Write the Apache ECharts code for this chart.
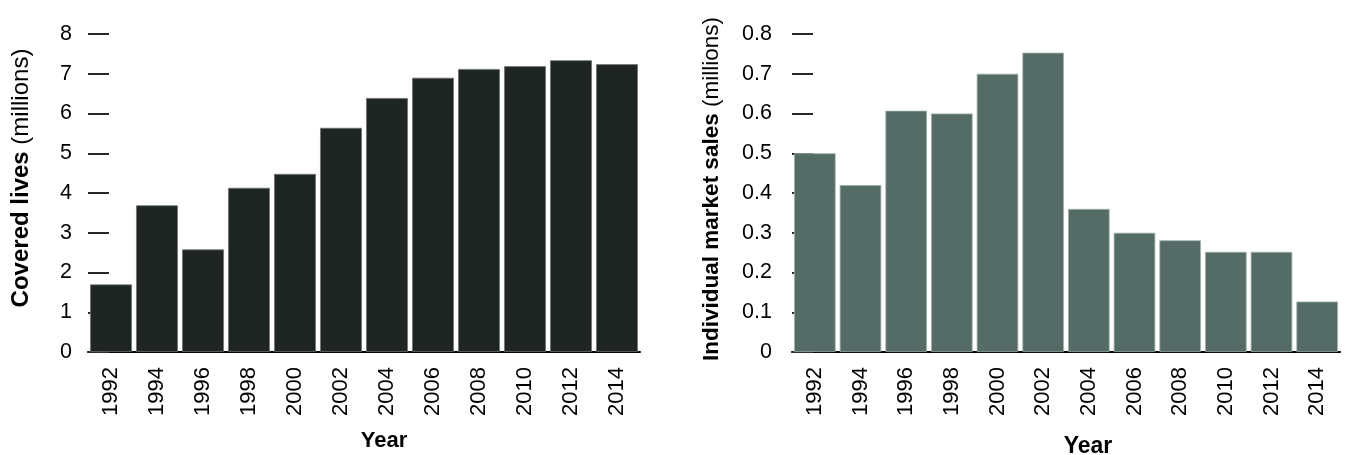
<!DOCTYPE html>
<html>
<head>
<meta charset="utf-8">
<script src="https://cdn.jsdelivr.net/npm/echarts@6/dist/echarts.min.js"></script>
<style>
  html, body { margin: 0; padding: 0; background: #fff; }
  #chart { width: 1356px; height: 455px; }
</style>
</head>
<body>
<div id="chart"></div>
<script>
// Years shared by both panels
const years = ['1992', '1994', '1996', '1998', '2000', '2002', '2004', '2006', '2008', '2010', '2012', '2014'];
// Covered lives, millions
const coveredLives = [1.70, 3.69, 2.58, 4.13, 4.48, 5.64, 6.39, 6.90, 7.12, 7.19, 7.34, 7.24];
// Individual market sales, millions
const marketSales = [0.50, 0.42, 0.607, 0.60, 0.70, 0.753, 0.36, 0.30, 0.281, 0.252, 0.252, 0.127];
// Value-axis tick labels
const leftTicks = ['0', '1', '2', '3', '4', '5', '6', '7', '8'];
const rightTicks = ['0', '0.1', '0.2', '0.3', '0.4', '0.5', '0.6', '0.7', '0.8'];

const FONT = '"Liberation Sans", Arial, Helvetica, sans-serif';

function catAxis(gridIndex, padLeft, gap, size) {
  return {
    type: 'category',
    gridIndex: gridIndex,
    data: years,
    axisLine: { show: true, lineStyle: { color: '#000', width: 2 } },
    axisTick: { show: false },
    axisLabel: { rotate: 90, margin: 15, fontSize: 22, color: '#000', fontFamily: FONT },
    name: 'Year',
    nameLocation: 'middle',
    nameGap: gap,
    nameTextStyle: { fontSize: size, fontWeight: 'bold', color: '#000', fontFamily: FONT, padding: [0, 0, 0, padLeft] }
  };
}

function valAxis(gridIndex, max, interval, ticks, nameText, gap, padLeft, size, margin) {
  return {
    type: 'value',
    gridIndex: gridIndex,
    min: 0,
    max: max,
    interval: interval,
    axisLine: { show: false },
    splitLine: { show: false },
    axisTick: { show: true, inside: true, length: 21, lineStyle: { color: '#262626', width: 2 } },
    axisLabel: {
      margin: margin, fontSize: 21.5, color: '#000', fontFamily: FONT,
      formatter: function (v) { return ticks[Math.round(v / interval)]; }
    },
    name: nameText,
    nameLocation: 'middle',
    nameGap: gap,
    nameTextStyle: {
      fontFamily: FONT, color: '#000', padding: [0, 0, 0, padLeft],
      rich: {
        b: { fontSize: size, fontWeight: 'bold', color: '#000', fontFamily: FONT },
        n: { fontSize: size, color: '#000', fontFamily: FONT }
      }
    }
  };
}

const chart = echarts.init(document.getElementById('chart'), null, { renderer: 'canvas' });
chart.setOption({
  animation: false,
  backgroundColor: '#fff',
  grid: [
    { left: 88, right: 716, top: 34, bottom: 103, containLabel: false, outerBoundsMode: 'none' },
    { left: 792, right: 16, top: 34, bottom: 103, containLabel: false, outerBoundsMode: 'none' }
  ],
  xAxis: [
    catAxis(0, 40, 78, 22),
    catAxis(1, 44, 83, 23)
  ],
  yAxis: [
    valAxis(0, 8, 1, leftTicks, '{b|Covered lives }{n|(millions)}', 55, 30, 24, 16),
    valAxis(1, 0.8, 0.1, rightTicks, '{b|Individual market sales }{n|(millions)}', 69, 8, 22.5, 20)
  ],
  series: [
    {
      type: 'bar', xAxisIndex: 0, yAxisIndex: 0, data: coveredLives,
      barCategoryGap: '9%',
      itemStyle: { color: '#1e2522', borderColor: '#6e7472', borderWidth: 0.8 }
    },
    {
      type: 'bar', xAxisIndex: 1, yAxisIndex: 1, data: marketSales,
      barCategoryGap: '9%',
      itemStyle: { color: '#546b66', borderColor: '#9fb0ac', borderWidth: 0.8 }
    }
  ]
});
</script>
</body>
</html>
